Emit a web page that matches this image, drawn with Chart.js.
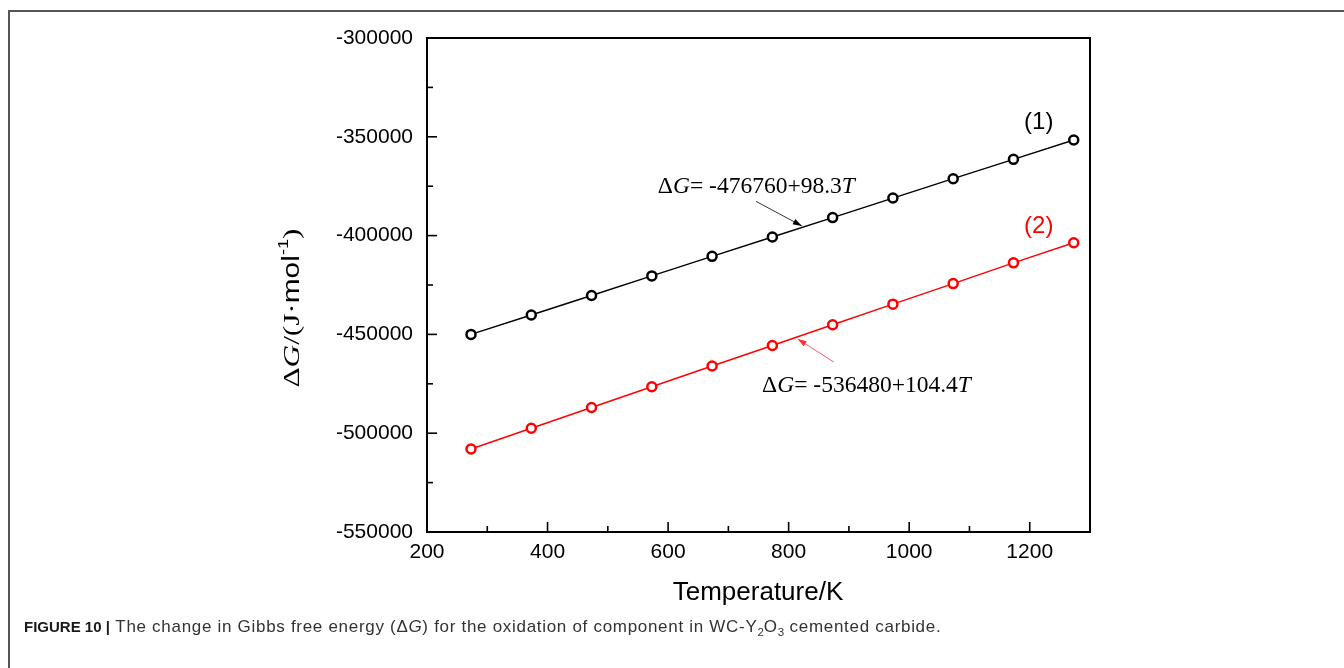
<!DOCTYPE html>
<html>
<head>
<meta charset="utf-8">
<script src="https://cdn.jsdelivr.net/npm/chart.js@4"></script>
<style>
html,body{margin:0;padding:0;background:#fff;}
#c{display:block;}
</style>
</head>
<body>
<canvas id="c" width="1344" height="668"></canvas>
<script>
// ---- data ----
const temperatures = [273, 373, 473, 573, 673, 773, 873, 973, 1073, 1173, 1273];
const dG1 = [-450000, -440200, -430300, -420400, -410500, -400700, -390900, -381000, -371200, -361400, -351600];
const dG2 = [-508000, -497500, -487000, -476500, -466000, -455600, -445100, -434700, -424300, -413800, -403600];
const xRange = [200, 1300];
const yRange = [-550000, -300000];
const xStep = 100, xLabelStep = 200;
const yStep = 25000, yLabelStep = 50000;
const fitLabel1 = '-476760+98.3';
const fitLabel2 = '-536480+104.4';
const seriesNames = ['(1)', '(2)'];
const xTitle = 'Temperature/K';

const SANS = '"Liberation Sans", Arial, sans-serif';
const SERIF = '"Liberation Serif", "Times New Roman", serif';

function toPts(xs, ys){ return xs.map((x,i)=>({x:x, y:ys[i]})); }

function drawRich(ctx, segs, x, y, align, sx){
  sx = sx || 1;
  let w = 0;
  segs.forEach(s=>{
    ctx.font = s.font; ctx.letterSpacing = s.ls || '0px';
    s.w = ctx.measureText(s.t).width; w += s.w;
  });
  ctx.save();
  ctx.translate(align === 'center' ? x - w*sx/2 : x, y);
  ctx.scale(sx, 1);
  let cx = 0;
  segs.forEach(s=>{
    ctx.font = s.font; ctx.letterSpacing = s.ls || '0px';
    if (s.color) ctx.fillStyle = s.color;
    ctx.fillText(s.t, cx, s.dy||0);
    cx += s.w;
  });
  ctx.restore();
  ctx.letterSpacing = '0px';
  return w*sx;
}

function arrow(ctx, x1, y1, x2, y2, color){
  ctx.save();
  ctx.strokeStyle = color; ctx.fillStyle = color; ctx.lineWidth = 0.8;
  ctx.beginPath(); ctx.moveTo(x1,y1); ctx.lineTo(x2,y2); ctx.stroke();
  const a = Math.atan2(y2-y1, x2-x1), L = 9, W = 3;
  ctx.beginPath();
  ctx.moveTo(x2,y2);
  ctx.lineTo(x2 - L*Math.cos(a) + W*Math.sin(a), y2 - L*Math.sin(a) - W*Math.cos(a));
  ctx.lineTo(x2 - L*Math.cos(a) - W*Math.sin(a), y2 - L*Math.sin(a) + W*Math.cos(a));
  ctx.closePath(); ctx.fill();
  ctx.restore();
}

const decor = {
  id: 'decor',
  afterDraw(chart){
    const ctx = chart.ctx, ca = chart.chartArea;
    const xs = chart.scales.x, ys = chart.scales.y;
    const X = v => xs.getPixelForValue(v), Y = v => ys.getPixelForValue(v);
    ctx.save();
    // figure frame
    ctx.strokeStyle = '#555'; ctx.lineWidth = 2;
    ctx.beginPath(); ctx.moveTo(9, 668); ctx.lineTo(9, 11); ctx.lineTo(1344, 11); ctx.stroke();
    // plot box
    ctx.strokeStyle = '#000'; ctx.lineWidth = 2;
    ctx.strokeRect(ca.left, ca.top, ca.right - ca.left, ca.bottom - ca.top);
    // inward ticks
    ctx.lineWidth = 1.6;
    xs.ticks.forEach(t=>{
      const px = X(t.value);
      if (px <= ca.left + 1 || px >= ca.right - 1) return;
      const len = (t.value % xLabelStep === 0) ? 10 : 6;
      ctx.beginPath(); ctx.moveTo(px, ca.bottom); ctx.lineTo(px, ca.bottom - len); ctx.stroke();
    });
    ys.ticks.forEach(t=>{
      const py = Y(t.value);
      if (py <= ca.top + 1 || py >= ca.bottom - 1) return;
      const len = (t.value % yLabelStep === 0) ? 10 : 6;
      ctx.beginPath(); ctx.moveTo(ca.left, py); ctx.lineTo(ca.left + len, py); ctx.stroke();
    });
    // x title
    ctx.fillStyle = '#000'; ctx.textBaseline = 'middle'; ctx.textAlign = 'left';
    drawRich(ctx, [{t: xTitle, font: '25px ' + SANS}], 758, 593, 'center', 1.04);
    // y title (rotated)
    ctx.save();
    ctx.translate(293, 308); ctx.rotate(-Math.PI/2);
    drawRich(ctx, [
      {t:'Δ', font:'24px ' + SERIF},
      {t:'G', font:'italic 24px ' + SERIF},
      {t:'/(J·', font:'24px ' + SERIF},
      {t:'mol', font:'23px ' + SANS},
      {t:'-1', font:'14px ' + SANS, dy:-9},
      {t:')', font:'24px ' + SERIF}
    ], 0, 0, 'center', 1.3);
    ctx.restore();
    // series labels
    ctx.textBaseline = 'middle';
    drawRich(ctx, [{t: seriesNames[0], font:'24px ' + SANS, color:'#000'}], X(1215), Y(-342800), 'center');
    drawRich(ctx, [{t: seriesNames[1], font:'24px ' + SANS, color:'#ff0000'}], X(1215), Y(-395400), 'center');
    // fit equations
    ctx.textBaseline = 'alphabetic';
    const ef = '23.5px ' + SERIF, efi = 'italic 23.5px ' + SERIF;
    drawRich(ctx, [
      {t:'Δ', font:ef, color:'#000'},
      {t:'G', font:efi, color:'#000'},
      {t:'= ' + fitLabel1, font:ef, color:'#000'},
      {t:'T', font:efi, color:'#000'}
    ], X(583), Y(-378400), 'left');
    drawRich(ctx, [
      {t:'Δ', font:ef, color:'#000'},
      {t:'G', font:efi, color:'#000'},
      {t:'= ' + fitLabel2, font:ef, color:'#000'},
      {t:'T', font:efi, color:'#000'}
    ], X(756), Y(-479200), 'left');
    arrow(ctx, X(746), Y(-382700), X(822), Y(-395100), '#000');
    arrow(ctx, X(875), Y(-464000), X(815), Y(-452300), '#ff3030');
    // caption
    ctx.textBaseline = 'alphabetic';
    const cf = '17px ' + SANS, ls = '0.7px';
    drawRich(ctx, [
      {t:'FIGURE 10 |', font:'bold 15px ' + SANS, color:'#1a1a1a'},
      {t:' The change in Gibbs free energy (Δ', font:cf, ls:ls, color:'#333'},
      {t:'G', font:'italic ' + cf, ls:ls, color:'#333'},
      {t:') for the oxidation of component in WC-Y', font:cf, ls:ls, color:'#333'},
      {t:'2', font:'11.5px ' + SANS, dy:4, color:'#333'},
      {t:'O', font:cf, ls:ls, color:'#333'},
      {t:'3', font:'11.5px ' + SANS, dy:4, color:'#333'},
      {t:' cemented carbide.', font:cf, ls:ls, color:'#333'}
    ], 24, 632, 'left');
    ctx.restore();
  }
};

new Chart(document.getElementById('c'), {
  type: 'scatter',
  data: {
    datasets: [
      { label: seriesNames[0], data: toPts(temperatures, dG1), showLine: true,
        borderColor: '#000', borderWidth: 1.4, pointRadius: 4.5, pointBorderWidth: 2.5,
        pointBackgroundColor: '#fff', pointBorderColor: '#000' },
      { label: seriesNames[1], data: toPts(temperatures, dG2), showLine: true,
        borderColor: '#ff0000', borderWidth: 1.4, pointRadius: 4.5, pointBorderWidth: 2.5,
        pointBackgroundColor: '#fff', pointBorderColor: '#ff0000' }
    ]
  },
  options: {
    responsive: false, animation: false, devicePixelRatio: 1,
    layout: { padding: { top: 38, right: 254, bottom: 0, left: 0 } },
    plugins: { legend: { display: false }, tooltip: { enabled: false } },
    scales: {
      x: {
        type: 'linear', min: xRange[0], max: xRange[1],
        grid: { display: false, drawTicks: false },
        border: { display: false },
        ticks: { stepSize: xStep, autoSkip: false, maxRotation: 0, padding: 8, color: '#000',
          font: { family: SANS, size: 21 },
          callback: v => (v % xLabelStep === 0 && v < xRange[1]) ? String(v) : '' },
        afterFit: s => { s.height = 136; }
      },
      y: {
        type: 'linear', min: yRange[0], max: yRange[1],
        grid: { display: false, drawTicks: false },
        border: { display: false },
        ticks: { stepSize: yStep, autoSkip: false, padding: 14, color: '#000',
          font: { family: SANS, size: 21 },
          callback: v => (v % yLabelStep === 0) ? String(v) : '' },
        afterFit: s => { s.width = 427; }
      }
    }
  },
  plugins: [decor]
});
</script>
</body>
</html>
